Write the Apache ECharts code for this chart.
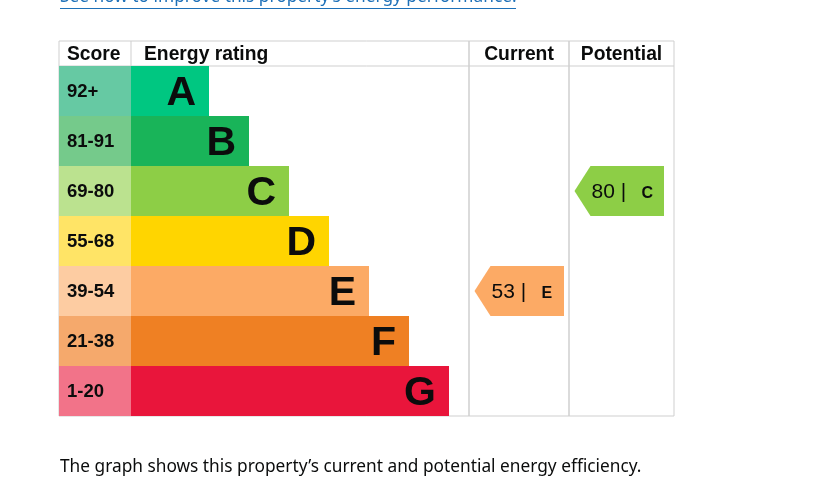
<!DOCTYPE html>
<html>
<head>
<meta charset="utf-8">
<script src="https://cdn.jsdelivr.net/npm/echarts@6.0.0/dist/echarts.min.js"></script>
<style>
  html, body { margin: 0; padding: 0; background: #fff; }
  #chart { width: 833px; height: 477px; }
</style>
</head>
<body>
<div id="chart"></div>
<script>
// rating bands, top to bottom
var bands = ["A", "B", "C", "D", "E", "F", "G"];
var scoreRanges = ["92+", "81-91", "69-80", "55-68", "39-54", "21-38", "1-20"];
// bar length of each band, in units of the rating column (0..338)
var bandLengths = [78, 118, 158, 198, 238, 278, 318];
var headers = ["Score", "Energy rating", "Current", "Potential"];
var current = { score: 53, band: "E" };
var potential = { score: 80, band: "C" };

var bandColors = ["#00c781", "#19b459", "#8dce46", "#ffd500", "#fcaa65", "#ef8023", "#e9153b"];
var scoreColors = ["#66c9a3", "#75ca8b", "#bbe28f", "#ffe466", "#fdcca2", "#f5a96c", "#f27389"];

var ARIAL = "Liberation Sans";
var GDS = "Noto Sans";
var INK = "#0b0c0c";
var LINE = "#cfcfcf";

var chart = echarts.init(document.getElementById("chart"));

// table layout
var T = { left: 59, top: 41, head: 25, bottom: 416, c1: 131, c2: 469, c3: 569, right: 674 };
var bodyH = T.bottom - T.top - T.head;

function gridAt(left, width) {
  return { left: left, top: T.top + T.head, width: width, height: bodyH, containLabel: false };
}
function hiddenX(i, max) {
  return { type: "value", gridIndex: i, min: 0, max: max, show: false };
}
function hiddenY(i) {
  return { type: "category", gridIndex: i, data: bands, inverse: true, show: false };
}

function arrowRenderer(rating) {
  return function (params, api) {
    var cs = params.coordSys;
    var center = api.coord([0, api.value(1)]);
    var h = api.size([0, 1])[1];
    var tip = cs.x + 5.5;
    var right = tip + 89.5;
    var top = center[1] - h / 2;
    var bot = center[1] + h / 2;
    return {
      type: "group",
      children: [
        {
          type: "polygon",
          shape: { points: [[tip, center[1]], [tip + 16, top], [right, top], [right, bot], [tip + 16, bot]] },
          style: { fill: bandColors[bands.indexOf(rating.band)] }
        },
        {
          type: "text",
          style: {
            x: tip + 17, y: center[1] + 1,
            text: rating.score + " |",
            verticalAlign: "middle", align: "left",
            fontFamily: ARIAL, fontSize: 21, fill: INK
          }
        },
        {
          type: "text",
          style: {
            x: tip + 67, y: center[1] + 3,
            text: rating.band,
            verticalAlign: "middle", align: "left",
            fontFamily: ARIAL, fontSize: 16, fontWeight: "bold", fill: INK
          }
        }
      ]
    };
  };
}

var headerX = [T.left + 8, T.c1 + 13, (T.c2 + T.c3) / 2, (T.c3 + T.right) / 2];
var headerAlign = ["left", "left", "center", "center"];

var graphics = [
  // top link (cut off by the top of the page)
  { type: "text", left: 60, top: -11, z: 1,
    style: { text: "See how to improve this property\u2019s energy performance.", fontFamily: GDS, fontSize: 17.3, fill: "#1d70b8" } },
  { type: "line", z: 1, shape: { x1: 60, y1: 8.5, x2: 516, y2: 8.5 }, style: { stroke: "#1d70b8", lineWidth: 1 } },
  // table lines
  { type: "rect", z: 0, shape: { x: T.left, y: T.top, width: T.right - T.left, height: T.bottom - T.top },
    style: { fill: "none", stroke: LINE, lineWidth: 1 } },
  { type: "line", z: 0, shape: { x1: T.left, y1: T.top + T.head, x2: T.right, y2: T.top + T.head }, style: { stroke: LINE, lineWidth: 1 } },
  { type: "line", z: 0, shape: { x1: T.c1, y1: T.top, x2: T.c1, y2: T.top + T.head }, style: { stroke: LINE, lineWidth: 1 } },
  { type: "line", z: 0, shape: { x1: T.c2, y1: T.top, x2: T.c2, y2: T.bottom }, style: { stroke: LINE, lineWidth: 1.5 } },
  { type: "line", z: 0, shape: { x1: T.c3, y1: T.top, x2: T.c3, y2: T.bottom }, style: { stroke: LINE, lineWidth: 1.5 } },
  // caption
  { type: "text", left: 60, top: 459, z: 1,
    style: { text: "The graph shows this property\u2019s current and potential energy efficiency.", fontFamily: GDS, fontSize: 17.3, fill: INK } }
];
headers.forEach(function (h, i) {
  graphics.push({
    type: "text", z: 1, x: headerX[i], y: T.top + T.head / 2 + 1,
    style: { text: h, fontFamily: ARIAL, fontSize: 19.3, fontWeight: "bold", fill: INK, align: headerAlign[i], verticalAlign: "middle" }
  });
});

chart.setOption({
  animation: false,
  grid: [
    gridAt(T.left, T.c1 - T.left),
    gridAt(T.c1, T.c2 - T.c1),
    gridAt(T.c2, T.c3 - T.c2),
    gridAt(T.c3, T.right - T.c3)
  ],
  xAxis: [hiddenX(0, 1), hiddenX(1, 338), hiddenX(2, 1), hiddenX(3, 1)],
  yAxis: [hiddenY(0), hiddenY(1), hiddenY(2), hiddenY(3)],
  graphic: graphics,
  series: [
    {
      type: "bar", xAxisIndex: 0, yAxisIndex: 0, barWidth: "100%", silent: true,
      data: scoreRanges.map(function (s, i) {
        return { value: 1, itemStyle: { color: scoreColors[i] } };
      }),
      label: {
        show: true, position: "insideLeft", distance: 8, offset: [0, 1],
        formatter: function (p) { return scoreRanges[p.dataIndex]; },
        fontFamily: ARIAL, fontSize: 18.5, fontWeight: "bold", color: INK
      }
    },
    {
      type: "bar", xAxisIndex: 1, yAxisIndex: 1, barWidth: "100%", silent: true,
      data: bandLengths.map(function (v, i) {
        return { value: v, itemStyle: { color: bandColors[i] } };
      }),
      label: {
        show: true, position: "insideRight", distance: 13, offset: [0, 3],
        formatter: function (p) { return bands[p.dataIndex]; },
        fontFamily: ARIAL, fontSize: 41, fontWeight: "bold", color: INK
      }
    },
    {
      type: "custom", xAxisIndex: 2, yAxisIndex: 2, silent: true,
      renderItem: arrowRenderer(current),
      data: [[0, bands.indexOf(current.band)]]
    },
    {
      type: "custom", xAxisIndex: 3, yAxisIndex: 3, silent: true,
      renderItem: arrowRenderer(potential),
      data: [[0, bands.indexOf(potential.band)]]
    }
  ]
});
</script>
</body>
</html>
